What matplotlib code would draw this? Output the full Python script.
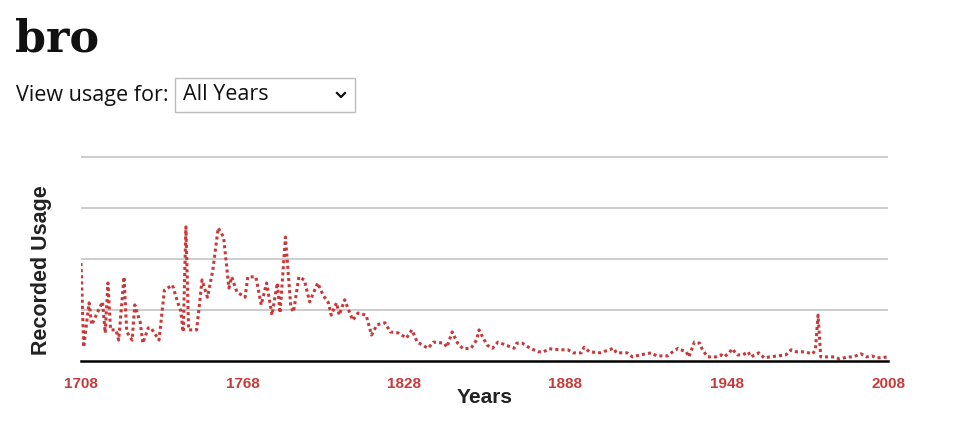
import matplotlib.pyplot as plt
from matplotlib.patches import Rectangle
from matplotlib.lines import Line2D

years = [1708, 1709, 1711, 1712, 1714, 1716, 1717, 1718, 1719, 1721, 1722, 1724, 1725, 1727,
         1728, 1730, 1731, 1733, 1734, 1737, 1739, 1742, 1744, 1745, 1746, 1747, 1748, 1751,
         1753, 1755, 1757, 1759, 1761, 1763, 1764, 1766, 1769, 1770, 1773, 1775, 1777, 1779,
         1781, 1782, 1784, 1786, 1787, 1789, 1791, 1793, 1796, 1798, 1800, 1801, 1803, 1804,
         1806, 1809, 1811, 1814, 1816, 1818, 1821, 1823, 1826, 1829, 1831, 1833, 1837, 1839,
         1843, 1844, 1846, 1848, 1850, 1853, 1855, 1856, 1857, 1859, 1861, 1863, 1866, 1869,
         1870, 1872, 1875, 1878, 1880, 1882, 1886, 1889, 1891, 1894, 1895, 1897, 1901, 1906,
         1907, 1911, 1913, 1916, 1920, 1922, 1926, 1928, 1930, 1931, 1933, 1934, 1936, 1938,
         1939, 1941, 1944, 1946, 1947, 1949, 1950, 1952, 1954, 1956, 1957, 1960, 1962, 1964,
         1967, 1970, 1972, 1974, 1977, 1980, 1981, 1982, 1983, 1985, 1988, 1990, 1993, 1995,
         1998, 2000, 2002, 2004, 2008]
usage = [1.92, 0.27, 1.14, 0.71, 0.94, 1.16, 0.55, 1.53, 0.61, 0.61, 0.41, 1.65, 0.57, 0.41,
         1.10, 0.76, 0.35, 0.65, 0.65, 0.41, 1.39, 1.49, 1.14, 1.00, 0.57, 2.63, 0.61, 0.61,
         1.59, 1.25, 1.78, 2.61, 2.43, 1.43, 1.65, 1.35, 1.25, 1.65, 1.65, 1.10, 1.53, 0.90,
         1.53, 0.94, 2.43, 1.06, 0.96, 1.65, 1.59, 1.16, 1.53, 1.29, 1.14, 0.90, 1.14, 0.90,
         1.20, 0.80, 0.94, 0.90, 0.51, 0.71, 0.75, 0.57, 0.55, 0.45, 0.61, 0.37, 0.25, 0.37,
         0.35, 0.27, 0.57, 0.35, 0.24, 0.25, 0.41, 0.61, 0.50, 0.31, 0.25, 0.37, 0.31, 0.25,
         0.35, 0.35, 0.25, 0.18, 0.18, 0.24, 0.22, 0.22, 0.16, 0.16, 0.27, 0.18, 0.16, 0.25,
         0.16, 0.16, 0.08, 0.12, 0.16, 0.10, 0.10, 0.18, 0.25, 0.22, 0.18, 0.08, 0.37, 0.35,
         0.22, 0.08, 0.08, 0.12, 0.08, 0.16, 0.24, 0.12, 0.12, 0.18, 0.08, 0.16, 0.06, 0.08,
         0.10, 0.12, 0.22, 0.18, 0.18, 0.14, 0.22, 0.90, 0.08, 0.08, 0.08, 0.04, 0.08, 0.08,
         0.14, 0.08, 0.10, 0.06, 0.08]
tick_years = [1708, 1768, 1828, 1888, 1948, 2008]

W, H = 963, 423
red = '#c83a3a'

fig = plt.figure(figsize=(W / 100, H / 100), dpi=100)

# plot area: baseline at y=361px, top gridline at y=157px
ytop = 4.05
ax = fig.add_axes([81 / W, 62 / H, 807 / W, 204 * ytop / 4 / H])
ax.plot(years, usage, color=red, lw=2.2, linestyle=(0, (1, 1)))
ax.set_xlim(1708, 2008)
ax.set_ylim(0, ytop)
ax.set_yticks([1, 2, 3, 4])
ax.set_yticklabels([])
ax.yaxis.grid(True, color='#c4c4c4', lw=1.2)
ax.set_axisbelow(True)
ax.tick_params(left=False, bottom=False, pad=8)
for s in ['left', 'right', 'top']:
    ax.spines[s].set_visible(False)
ax.spines['bottom'].set_linewidth(1.8)
ax.set_xticks(tick_years)
ax.set_xticklabels([str(y) for y in tick_years], color=red, fontweight='bold',
                   fontsize=11, family='Liberation Sans')

fig.text(485 / W, 1 - 397 / H, 'Years', ha='center', va='center', fontsize=15,
         fontweight='bold', family='Liberation Sans', color='#222222')
fig.text(42 / W, 1 - 270 / H, 'Recorded Usage', ha='center', va='center', rotation=90,
         fontsize=15.5, fontweight='bold', family='Liberation Sans', color='#222222')

# page header
fig.text(15 / W, 1 - 52 / H, 'bro', ha='left', va='baseline', fontsize=32,
         fontweight='bold', family='DejaVu Serif', color='#111111')
fig.text(16 / W, 1 - 95 / H, 'View usage for:', ha='left', va='center', fontsize=15.5,
         family='Open Sans', color='#111111')
fig.patches.append(Rectangle((175 / W, 1 - 112 / H), 180 / W, 34 / H, transform=fig.transFigure,
                             fill=False, edgecolor='#bbbbbb', lw=1))
fig.text(183 / W, 1 - 95 / H, 'All Years', ha='left', va='center', fontsize=15.5,
         family='Open Sans', color='#111111')
fig.lines.append(Line2D([337 / W, 341 / W, 345 / W], [1 - 93 / H, 1 - 97 / H, 1 - 93 / H],
                        transform=fig.transFigure, color='#111111', lw=1.6))

fig.savefig('out.png', dpi=100)
